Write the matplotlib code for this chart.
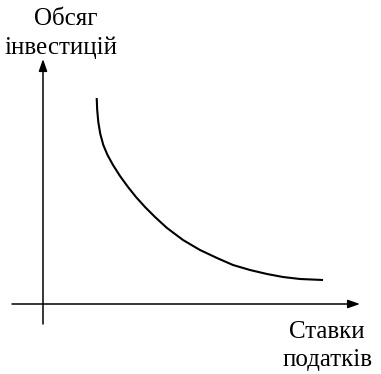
import matplotlib
matplotlib.use("Agg")
import matplotlib.pyplot as plt

# Curve data (conceptual units: origin at axes crossing)
curve_x = [53.7, 54.2, 55.3, 57.3, 60.3, 64.5, 70, 77, 85, 93, 102, 112, 124, 140,
           157, 174, 190, 207, 224, 240, 257, 280]
curve_y = [206, 194, 182, 170, 159, 149, 139, 128, 117, 107, 97, 87, 76, 64,
           54, 46, 39, 34, 30, 27, 25, 24]

y_label_lines = ["Обсяг", "інвестицій"]
x_label_lines = ["Ставки", "податків"]

plt.rcParams['font.family'] = ['Liberation Serif', 'DejaVu Serif']

fig = plt.figure(figsize=(3.81, 3.74), dpi=100)
ax = fig.add_axes([0, 0, 1, 1])
ax.set_xlim(-43, 338)
ax.set_ylim(-70, 304)
ax.axis('off')

arrow = dict(arrowstyle='-|>,head_length=0.4,head_width=0.14', lw=1.1,
             color='black', shrinkA=0, shrinkB=0, mutation_scale=18)
ax.annotate('', xy=(0, 245), xytext=(0, -20), arrowprops=arrow)
ax.annotate('', xy=(317, 0), xytext=(-31, 0), arrowprops=arrow)

ax.plot(curve_x, curve_y, color='black', lw=1.5, solid_capstyle='butt',
        solid_joinstyle='round')

fs = 18
ax.text(23, 279, y_label_lines[0], ha='center', va='baseline', fontsize=fs)
ax.text(18, 250, y_label_lines[1], ha='center', va='baseline', fontsize=fs)
ax.text(284, -34, x_label_lines[0], ha='center', va='baseline', fontsize=fs)
ax.text(285, -62, x_label_lines[1], ha='center', va='baseline', fontsize=fs)

fig.savefig("out.png", dpi=100)
